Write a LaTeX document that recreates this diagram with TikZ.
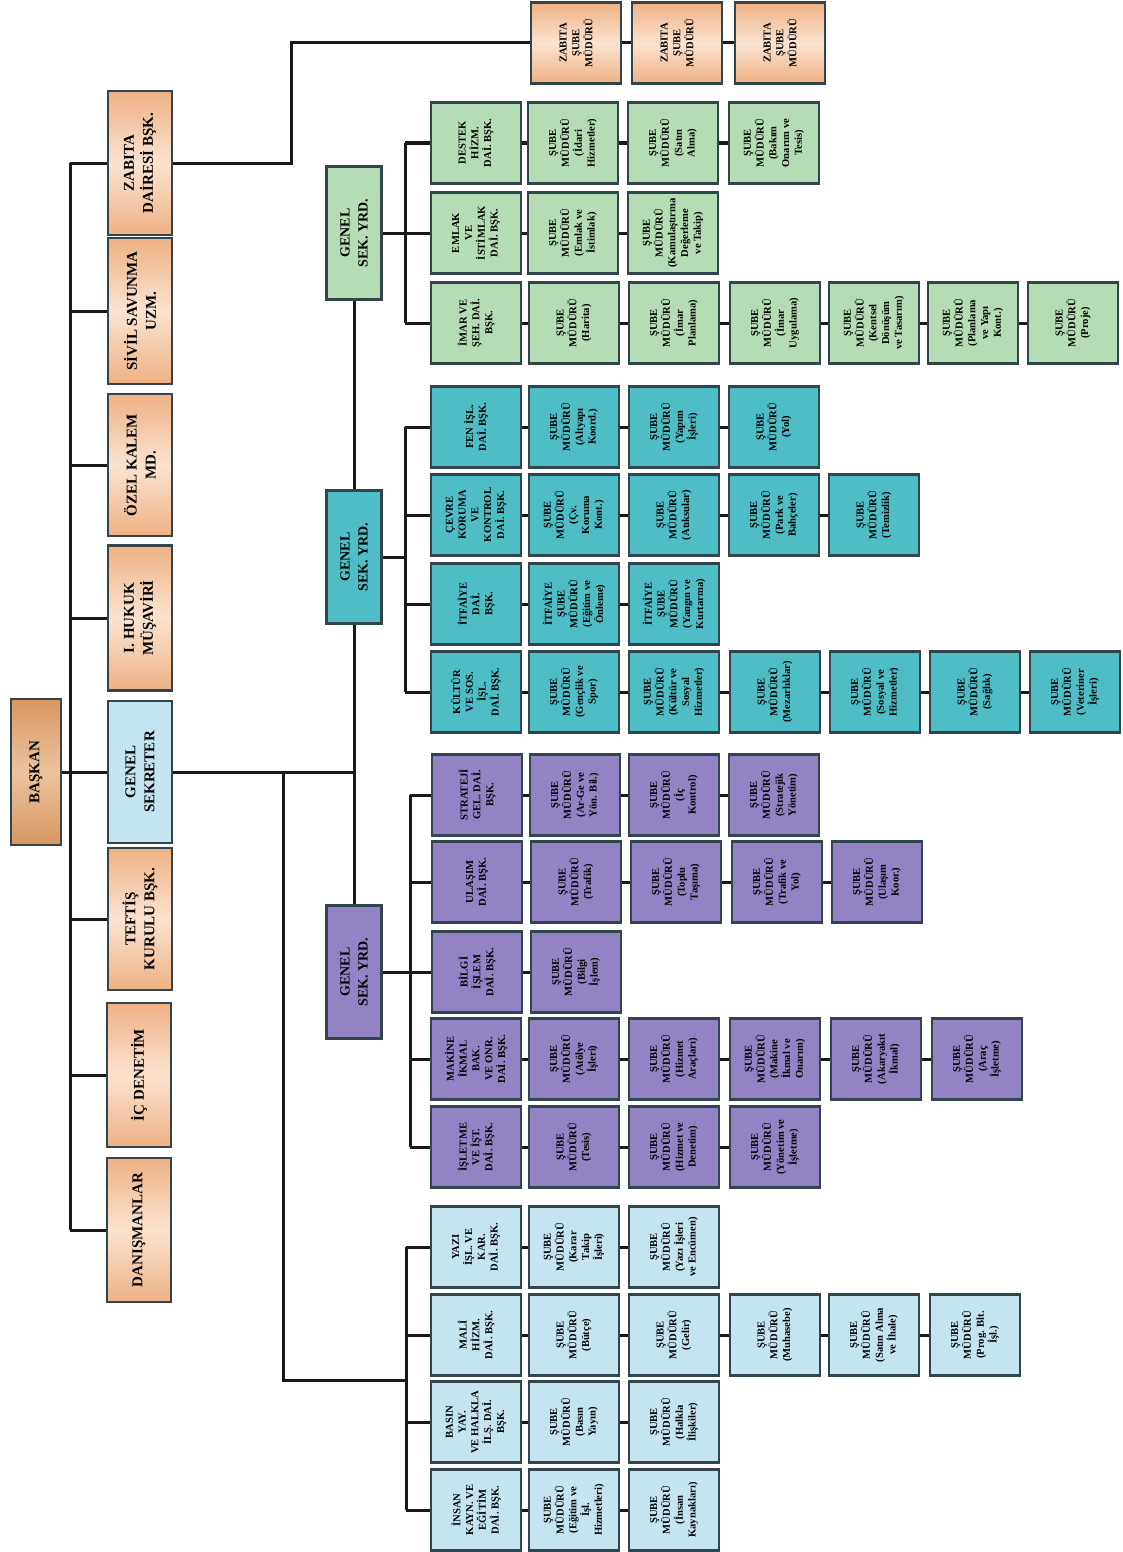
\documentclass[tikz,border=0pt]{standalone}
\usepackage{fontspec}
\setmainfont{Liberation Serif}
\pgfdeclarelayer{bg}
\pgfsetlayers{bg,main}
\definecolor{cgreen}{HTML}{B5DCB5}
\definecolor{cteal}{HTML}{4EBDC6}
\definecolor{cpurp}{HTML}{9382C4}
\definecolor{cblue}{HTML}{C4E4EF}
\definecolor{orgA}{HTML}{EFB184}
\definecolor{orgB}{HTML}{FBE3D0}
\definecolor{bskA}{HTML}{D8955F}
\definecolor{bskB}{HTML}{EDC49E}
\definecolor{bord}{HTML}{33454C}
\tikzset{
 boxbase/.style={draw=bord, line width=1.35pt, rotate=90, align=center, inner sep=1pt,
   font=\fontsize{5.3}{6.4}\selectfont\bfseries},
 subbox/.style={boxbase, minimum width=40.5pt, minimum height=45pt},
 orgfill/.style={top color=orgA, bottom color=orgA, middle color=orgB},
 topbox/.style={boxbase, minimum height=32pt, font=\fontsize{7.5}{9.5}\selectfont\bfseries},
 gsybox/.style={boxbase, minimum width=66.5pt, minimum height=27.5pt, font=\fontsize{7}{9}\selectfont\bfseries},
 grn/.style={fill=cgreen}, tea/.style={fill=cteal}, pur/.style={fill=cpurp}, lbl/.style={fill=cblue},
 conn/.style={line width=1.5pt, draw=black!90}
}
\begin{document}
\begin{tikzpicture}[x=0.5pt,y=-0.5pt]
\useasboundingbox (0,0) rectangle (1123,1552);
% ---------- top level ----------
\node[boxbase, minimum width=73pt, minimum height=25pt, top color=bskA, bottom color=bskA, middle color=bskB,
  font=\fontsize{7.5}{9}\selectfont\bfseries] (baskan) at (36,772) {BAŞKAN};
\node[topbox, orgfill, minimum width=72pt] (zabita) at (140,163) {ZABITA\\DAİRESİ BŞK.};
\node[topbox, orgfill, minimum width=73pt] (sivil) at (140,311) {SİVİL SAVUNMA\\UZM.};
\node[topbox, orgfill, minimum width=71pt] (ozel) at (140,465) {ÖZEL KALEM\\MD.};
\node[topbox, orgfill, minimum width=72.5pt] (hukuk) at (140,618) {I. HUKUK\\MÜŞAVİRİ};
\node[topbox, lbl, minimum width=71pt] (gensek) at (140,772) {GENEL\\SEKRETER};
\node[topbox, orgfill, minimum width=71pt] (teftis) at (140,919) {TEFTİŞ\\KURULU BŞK.};
\node[topbox, orgfill, minimum width=72pt] (icden) at (139,1075) {İÇ DENETİM};
\node[topbox, orgfill, minimum width=72pt] (danis) at (139,1230) {DANIŞMANLAR};
\coordinate (tbT) at (70,163);
\coordinate (tbB) at (70,1230);
% ---------- zabita sube ----------
\node[subbox, orgfill] (zs1) at (576,43) {ZABITA\\ŞUBE\\MÜDÜRÜ};
\node[subbox, orgfill] (zs2) at (677,43) {ZABITA\\ŞUBE\\MÜDÜRÜ};
\node[subbox, orgfill] (zs3) at (780,43) {ZABITA\\ŞUBE\\MÜDÜRÜ};
\coordinate (zk) at (291,43);
% ---------- genel sek. yrd. ----------
\node[gsybox, grn] (gyg) at (354,233) {GENEL\\SEK. YRD.};
\node[gsybox, tea] (gyt) at (354,557) {GENEL\\SEK. YRD.};
\node[gsybox, pur] (gyp) at (354,972) {GENEL\\SEK. YRD.};
% ---------- green group ----------
\node[subbox, grn] (g1a) at (476,143) {DESTEK\\HİZM.\\DAİ. BŞK.};
\node[subbox, grn] (g1b) at (573,143) {ŞUBE\\MÜDÜRÜ\\(İdari\\Hizmetler)};
\node[subbox, grn] (g1c) at (673,143) {ŞUBE\\MÜDÜRÜ\\(Satın\\Alma)};
\node[subbox, grn] (g1d) at (774,143) {ŞUBE\\MÜDÜRÜ\\(Bakım\\Onarım ve\\Tesis)};
\node[subbox, grn] (g2a) at (476,233) {EMLAK\\VE\\İSTİMLAK\\DAİ. BŞK.};
\node[subbox, grn] (g2b) at (573,233) {ŞUBE\\MÜDÜRÜ\\(Emlak ve\\İstimlak)};
\node[subbox, grn] (g2c) at (673,233) {ŞUBE\\MÜDÜRÜ\\(Kamulaştırma\\Değerleme\\ve Takip)};
\node[subbox, grn] (g3a) at (476,323) {İMAR VE\\ŞEH. DAİ.\\BŞK.};
\node[subbox, grn] (g3b) at (574,323) {ŞUBE\\MÜDÜRÜ\\(Harita)};
\node[subbox, grn] (g3c) at (674,323) {ŞUBE\\MÜDÜRÜ\\(İmar\\Planlama)};
\node[subbox, grn] (g3d) at (775,323) {ŞUBE\\MÜDÜRÜ\\(İmar\\Uygulama)};
\node[subbox, grn] (g3e) at (874,323) {ŞUBE\\MÜDÜRÜ\\(Kentsel\\Dönüşüm\\ve Tasarım)};
\node[subbox, grn] (g3f) at (973,323) {ŞUBE\\MÜDÜRÜ\\(Planlama\\ve Yapı\\Kont.)};
\node[subbox, grn] (g3g) at (1073,323) {ŞUBE\\MÜDÜRÜ\\(Proje)};
\coordinate (gbT) at (405,143);
\coordinate (gbB) at (405,323);
% ---------- teal group ----------
\node[subbox, tea] (t1a) at (476,427) {FEN İŞL.\\DAİ. BŞK.};
\node[subbox, tea] (t1b) at (574,427) {ŞUBE\\MÜDÜRÜ\\(Altyapı\\Koord.)};
\node[subbox, tea] (t1c) at (674,427) {ŞUBE\\MÜDÜRÜ\\(Yapım\\İşleri)};
\node[subbox, tea] (t1d) at (774,427) {ŞUBE\\MÜDÜRÜ\\(Yol)};
\node[subbox, tea] (t2a) at (476,515) {ÇEVRE\\KORUMA\\VE\\KONTROL\\DAİ. BŞK.};
\node[subbox, tea] (t2b) at (574,515) {ŞUBE\\MÜDÜRÜ\\(Çv.\\Koruma\\Kont.)};
\node[subbox, tea] (t2c) at (674,515) {ŞUBE\\MÜDÜRÜ\\(Atıksular)};
\node[subbox, tea] (t2d) at (774,515) {ŞUBE\\MÜDÜRÜ\\(Park ve\\Bahçeler)};
\node[subbox, tea] (t2e) at (874,515) {ŞUBE\\MÜDÜRÜ\\(Temizlik)};
\node[subbox, tea] (t3a) at (476,604) {İTFAİYE\\DAİ.\\BŞK.};
\node[subbox, tea] (t3b) at (574,604) {İTFAİYE\\ŞUBE\\MÜDÜRÜ\\(Eğitim ve\\Önleme)};
\node[subbox, tea] (t3c) at (674,604) {İTFAİYE\\ŞUBE\\MÜDÜRÜ\\(Yangın ve\\Kurtarma)};
\node[subbox, tea] (t4a) at (476,692) {KÜLTÜR\\VE SOS.\\İŞL.\\DAİ. BŞK.};
\node[subbox, tea] (t4b) at (574,692) {ŞUBE\\MÜDÜRÜ\\(Gençlik ve\\Spor)};
\node[subbox, tea] (t4c) at (674,692) {ŞUBE\\MÜDÜRÜ\\(Kültür ve\\Sosyal\\Hizmetler)};
\node[subbox, tea] (t4d) at (775,692) {ŞUBE\\MÜDÜRÜ\\(Mezarlıklar)};
\node[subbox, tea] (t4e) at (875,692) {ŞUBE\\MÜDÜRÜ\\(Sosyal ve\\Hizmetler)};
\node[subbox, tea] (t4f) at (975,692) {ŞUBE\\MÜDÜRÜ\\(Sağlık)};
\node[subbox, tea] (t4g) at (1075,692) {ŞUBE\\MÜDÜRÜ\\(Veteriner\\İşleri)};
\coordinate (tbusT) at (405,427);
\coordinate (tbusB) at (405,692);
% ---------- purple group ----------
\node[subbox, pur] (p1a) at (477,795) {STRATEJİ\\GEL. DAİ.\\BŞK.};
\node[subbox, pur] (p1b) at (575,795) {ŞUBE\\MÜDÜRÜ\\(Ar-Ge ve\\Yön. Bil.)};
\node[subbox, pur] (p1c) at (674,795) {ŞUBE\\MÜDÜRÜ\\(İç\\Kontrol)};
\node[subbox, pur] (p1d) at (774,795) {ŞUBE\\MÜDÜRÜ\\(Stratejik\\Yönetim)};
\node[subbox, pur] (p2a) at (477,882) {ULAŞIM\\DAİ. BŞK.};
\node[subbox, pur] (p2b) at (576,882) {ŞUBE\\MÜDÜRÜ\\(Trafik)};
\node[subbox, pur] (p2c) at (676,882) {ŞUBE\\MÜDÜRÜ\\(Toplu\\Taşıma)};
\node[subbox, pur] (p2d) at (777,882) {ŞUBE\\MÜDÜRÜ\\(Trafik ve\\Yol)};
\node[subbox, pur] (p2e) at (877,882) {ŞUBE\\MÜDÜRÜ\\(Ulaşım\\Koor.)};
\node[subbox, pur] (p3a) at (477,972) {BİLGİ\\İŞLEM\\DAİ. BŞK.};
\node[subbox, pur] (p3b) at (576,972) {ŞUBE\\MÜDÜRÜ\\(Bilgi\\İşlem)};
\node[subbox, pur] (p4a) at (476,1059) {MAKİNE\\İKMAL\\BAK.\\VE ONR.\\DAİ. BŞK.};
\node[subbox, pur] (p4b) at (574,1059) {ŞUBE\\MÜDÜRÜ\\(Atölye\\İşleri)};
\node[subbox, pur] (p4c) at (674,1059) {ŞUBE\\MÜDÜRÜ\\(Hizmet\\Araçları)};
\node[subbox, pur] (p4d) at (775,1059) {ŞUBE\\MÜDÜRÜ\\(Makine\\İkmal ve\\Onarım)};
\node[subbox, pur] (p4e) at (876,1059) {ŞUBE\\MÜDÜRÜ\\(Akaryakıt\\İkmal)};
\node[subbox, pur] (p4f) at (977,1059) {ŞUBE\\MÜDÜRÜ\\(Araç\\İşletme)};
\node[subbox, pur] (p5a) at (476,1147) {İŞLETME\\VE İŞT.\\DAİ. BŞK.};
\node[subbox, pur] (p5b) at (574,1147) {ŞUBE\\MÜDÜRÜ\\(Tesis)};
\node[subbox, pur] (p5c) at (674,1147) {ŞUBE\\MÜDÜRÜ\\(Hizmet ve\\Denetim)};
\node[subbox, pur] (p5d) at (775,1147) {ŞUBE\\MÜDÜRÜ\\(Yönetim ve\\İşletme)};
\coordinate (pbT) at (410,795);
\coordinate (pbB) at (410,1147);
% ---------- light blue group ----------
\node[subbox, lbl] (b1a) at (476,1247) {YAZI\\İŞL. VE\\KAR.\\DAİ. BŞK.};
\node[subbox, lbl] (b1b) at (574,1247) {ŞUBE\\MÜDÜRÜ\\(Karar\\Takip\\İşleri)};
\node[subbox, lbl] (b1c) at (674,1247) {ŞUBE\\MÜDÜRÜ\\(Yazı İşleri\\ve Encümen)};
\node[subbox, lbl] (b2a) at (476,1335) {MALİ\\HİZM.\\DAİ. BŞK.};
\node[subbox, lbl] (b2b) at (574,1335) {ŞUBE\\MÜDÜRÜ\\(Bütçe)};
\node[subbox, lbl] (b2c) at (674,1335) {ŞUBE\\MÜDÜRÜ\\(Gelir)};
\node[subbox, lbl] (b2d) at (775,1335) {ŞUBE\\MÜDÜRÜ\\(Muhasebe)};
\node[subbox, lbl] (b2e) at (874,1335) {ŞUBE\\MÜDÜRÜ\\(Satın Alma\\ve İhale)};
\node[subbox, lbl] (b2f) at (975,1335) {ŞUBE\\MÜDÜRÜ\\(Prog. Blt.\\İşl.)};
\node[subbox, lbl] (b3a) at (476,1422) {BASIN\\YAY.\\VE HALKLA\\İLŞ. DAİ.\\BŞK.};
\node[subbox, lbl] (b3b) at (574,1422) {ŞUBE\\MÜDÜRÜ\\(Basın\\Yayın)};
\node[subbox, lbl] (b3c) at (674,1422) {ŞUBE\\MÜDÜRÜ\\(Halkla\\İlişkiler)};
\node[subbox, lbl] (b4a) at (476,1510) {İNSAN\\KAYN. VE\\EĞİTİM\\DAİ. BŞK.};
\node[subbox, lbl] (b4b) at (574,1510) {ŞUBE\\MÜDÜRÜ\\(Eğitim ve\\İşl.\\Hizmetleri)};
\node[subbox, lbl] (b4c) at (674,1510) {ŞUBE\\MÜDÜRÜ\\(İnsan\\Kaynakları)};
\coordinate (lbT) at (406,1247);
\coordinate (lbB) at (406,1510);
\coordinate (lfA) at (283,772);
\coordinate (lfB) at (283,1380);
% ---------- connectors ----------
\begin{pgfonlayer}{bg}
\draw[conn] (tbT) -- (tbB);
\foreach \n in {zabita,sivil,ozel,hukuk,teftis,icden,danis} \draw[conn] (\n) -- (\n -| tbT);
\draw[conn] (baskan) -- (gensek);
\draw[conn] (zabita) -| (zk) -- (zs1);
\draw[conn] (zs1) -- (zs2) -- (zs3);
\draw[conn] (gensek) -- (gensek -| gyg);
\draw[conn] (gyg) -- (gyp);
\draw[conn] (lfA) -- (lfB) -- (lfB -| lbT);
% green
\draw[conn] (gbT) -- (gbB);
\draw[conn] (gyg) -- (gyg -| gbT);
\foreach \n in {g1a,g2a,g3a} \draw[conn] (\n) -- (\n -| gbT);
\draw[conn] (g1a) -- (g1b) -- (g1c) -- (g1d);
\draw[conn] (g2a) -- (g2b) -- (g2c);
\draw[conn] (g3a) -- (g3b) -- (g3c) -- (g3d) -- (g3e) -- (g3f) -- (g3g);
% teal
\draw[conn] (tbusT) -- (tbusB);
\draw[conn] (gyt) -- (gyt -| tbusT);
\foreach \n in {t1a,t2a,t3a,t4a} \draw[conn] (\n) -- (\n -| tbusT);
\draw[conn] (t1a) -- (t1b) -- (t1c) -- (t1d);
\draw[conn] (t2a) -- (t2b) -- (t2c) -- (t2d) -- (t2e);
\draw[conn] (t3a) -- (t3b) -- (t3c);
\draw[conn] (t4a) -- (t4b) -- (t4c) -- (t4d) -- (t4e) -- (t4f) -- (t4g);
% purple
\draw[conn] (pbT) -- (pbB);
\draw[conn] (gyp) -- (gyp -| pbT);
\foreach \n in {p1a,p2a,p3a,p4a,p5a} \draw[conn] (\n) -- (\n -| pbT);
\draw[conn] (p1a) -- (p1b) -- (p1c) -- (p1d);
\draw[conn] (p2a) -- (p2b) -- (p2c) -- (p2d) -- (p2e);
\draw[conn] (p3a) -- (p3b);
\draw[conn] (p4a) -- (p4b) -- (p4c) -- (p4d) -- (p4e) -- (p4f);
\draw[conn] (p5a) -- (p5b) -- (p5c) -- (p5d);
% light blue
\draw[conn] (lbT) -- (lbB);
\foreach \n in {b1a,b2a,b3a,b4a} \draw[conn] (\n) -- (\n -| lbT);
\draw[conn] (b1a) -- (b1b) -- (b1c);
\draw[conn] (b2a) -- (b2b) -- (b2c) -- (b2d) -- (b2e) -- (b2f);
\draw[conn] (b3a) -- (b3b) -- (b3c);
\draw[conn] (b4a) -- (b4b) -- (b4c);
\end{pgfonlayer}
\end{tikzpicture}
\end{document}
